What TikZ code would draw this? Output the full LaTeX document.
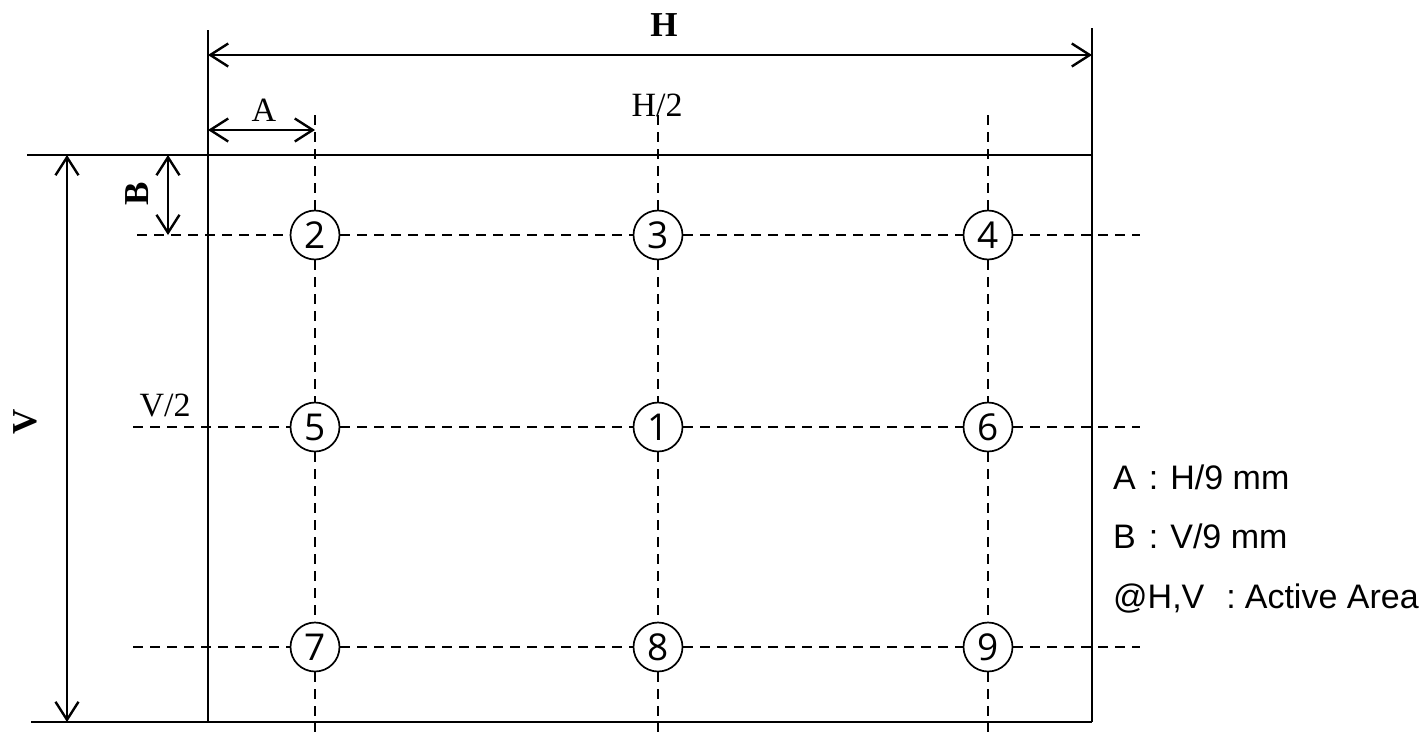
\documentclass[tikz,border=0pt]{standalone}
\usepackage{fontspec}
\setmainfont{Liberation Serif}
\newfontfamily\arialf{Liberation Sans}
\newfontfamily\digitf{Open Sans}
\usetikzlibrary{arrows.meta}
\begin{document}
\begin{tikzpicture}[x=1pt,y=-1pt,
  solidline/.style={line width=2pt},
  dimline/.style={line width=2.4pt,{Straight Barb[length=18pt,width=23pt,line width=2.4pt]}-{Straight Barb[length=18pt,width=23pt,line width=2.4pt]}},
  gridline/.style={line width=1.7pt,dash pattern=on 10pt off 7pt},
  ptnode/.style={circle,draw,line width=1.7pt,minimum size=49pt,inner sep=0pt,fill=white,font=\digitf\fontsize{37}{37}\selectfont},
  serlabel/.style={font=\fontsize{34}{34}\selectfont,inner sep=0pt},
  boldlabel/.style={font=\bfseries\fontsize{35}{35}\selectfont,inner sep=0pt},
  notelabel/.style={font=\arialf\fontsize{34}{34}\selectfont,inner sep=0pt,anchor=base west}]
\useasboundingbox (0,0) rectangle (1425,737);
% frame
\draw[solidline] (27,155) -- (1092,155);
\draw[solidline] (31,722) -- (1092,722);
\draw[solidline] (208,30) -- (208,722);
\draw[solidline] (1092,28) -- (1092,722);
% coordinates
\coordinate (hl) at (208,55);
\coordinate (hr) at (1092,55);
\coordinate (al) at (208,130);
\coordinate (ar) at (315,130);
\coordinate (vt) at (67,155);
\coordinate (vb) at (67,722);
\coordinate (bt) at (168,155);
\coordinate (bb) at (168,235);
% points
\node[ptnode] (p2) at (315,235) {2};
\node[ptnode] (p3) at (658,235) {3};
\node[ptnode] (p4) at (988,235) {4};
\node[ptnode] (p5) at (315,427) {5};
\node[ptnode] (p1) at (658,427) {1};
\node[ptnode] (p6) at (988,427) {6};
\node[ptnode] (p7) at (315,647) {7};
\node[ptnode] (p8) at (658,647) {8};
\node[ptnode] (p9) at (988,647) {9};
% grid ends
\coordinate (r1l) at (137,235); \coordinate (r1r) at (1140,235);
\coordinate (r2l) at (133,427); \coordinate (r2r) at (1140,427);
\coordinate (r3l) at (133,647); \coordinate (r3r) at (1140,647);
\coordinate (c1t) at (315,115); \coordinate (c1b) at (315,732);
\coordinate (c2t) at (658,115); \coordinate (c2b) at (658,732);
\coordinate (c3t) at (988,115); \coordinate (c3b) at (988,732);
\draw[gridline] (r1l) -- (p2) (p2) -- (p3) (p3) -- (p4) (p4) -- (r1r);
\draw[gridline] (r2l) -- (p5) (p5) -- (p1) (p1) -- (p6) (p6) -- (r2r);
\draw[gridline] (r3l) -- (p7) (p7) -- (p8) (p8) -- (p9) (p9) -- (r3r);
\draw[gridline] (c1t) -- (p2) (p2) -- (p5) (p5) -- (p7) (p7) -- (c1b);
\draw[gridline] (c2t) -- (p3) (p3) -- (p1) (p1) -- (p8) (p8) -- (c2b);
\draw[gridline] (c3t) -- (p4) (p4) -- (p6) (p6) -- (p9) (p9) -- (c3b);
% dimensions
\draw[dimline] (hl) -- (hr);
\draw[dimline] (al) -- (ar);
\draw[dimline] (vt) -- (vb);
\draw[dimline] (bt) -- (bb);
% labels
\node[boldlabel] (lh) at (664,25) {H};
\node[serlabel] (la) at (264,110) {A};
\node[serlabel] (lh2) at (657,105) {H/2};
\node[serlabel] (lv2) at (165,405) {V/2};
\node[boldlabel,rotate=90] (lb) at (137,194) {B};
\node[boldlabel,rotate=90] (lv) at (25,422) {V};
\node[notelabel] (n1) at (1113,489) {A\hspace{13pt}:\hspace{12pt}H/9 mm};
\node[notelabel] (n2) at (1113,548) {B\hspace{13pt}:\hspace{12pt}V/9 mm};
\node[notelabel] (n3) at (1113,608) {@H,V\hspace{22pt}:\hspace{9pt}Active Area};
\end{tikzpicture}
\end{document}
